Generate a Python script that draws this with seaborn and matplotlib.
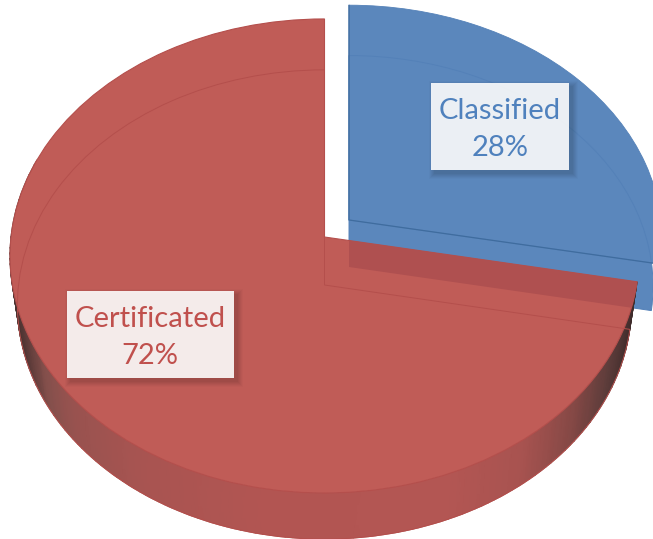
import numpy as np
import matplotlib
matplotlib.use("Agg")
import matplotlib.pyplot as plt
from matplotlib.colors import LinearSegmentedColormap
from matplotlib.patches import Rectangle
from matplotlib.transforms import Transform
import seaborn as sns

categories = ["Classified", "Certificated"]
shares = [28, 72]

BLUE = "#5b87bc"
BLUE_EDGE = "#5481b8"
BLUE_LABEL = "#4f81bd"
RED = "#c05c57"
RED_OVER_BLUE = "#af5050"
RED_EDGE = "#b44f4c"
RED_LABEL = "#c0504d"

sns.set_theme(style="white")
plt.rcParams["font.family"] = ["Lato", "DejaVu Sans"]


class Tilt(Transform):
    """Projects the flat pie disc on to a plane seen in perspective."""
    input_dims = 2
    output_dims = 2

    def __init__(self, cx, cy, a, b, k):
        super().__init__()
        self.p = (cx, cy, a, b, k)

    def transform_non_affine(self, xy):
        cx, cy, a, b, k = self.p
        xy = np.asarray(xy, dtype=float)
        w = 1 + k * xy[:, 1]
        return np.column_stack([cx + a * xy[:, 0] / w, cy - b * xy[:, 1] / w])


red_top = Tilt(324.5, 237, 313.5, 235.5, 0.08)
red_low = Tilt(324.5, 285, 306, 233, 0.083)
blue_top = Tilt(349, 220, 312, 232, 0.08)
blue_low = Tilt(349, 267, 303, 229, 0.083)

fig = plt.figure(figsize=(6.53, 5.39), dpi=100, facecolor="white")
ax = fig.add_axes([0, 0, 1, 1])


def slices(tilt, z, **kw):
    """One pie of the shares, in the given projection; returns its wedges."""
    wedges, _ = ax.pie(shares, startangle=90, counterclock=False, radius=1,
                       center=(0, 0), wedgeprops=kw)
    for w in wedges:
        w.set_transform(tilt + ax.transData)
        w.set_zorder(z)
    return wedges


def keep(wedges, i):
    wedges[1 - i].remove()
    return wedges[i]


keep(slices(blue_low, 1, facecolor=BLUE, edgecolor="none"), 0)
keep(slices(blue_top, 2, facecolor=BLUE, edgecolor=BLUE_EDGE, linewidth=0.6), 0)
keep(slices(blue_low, 2.5, facecolor="none", edgecolor=BLUE_EDGE, linewidth=0.7), 0)

start = 90 - 360 * shares[0] / sum(shares)

# darker radial edges of the blue slice's upper face
ends = np.array([[0, 1], [0, 0], [np.cos(np.radians(start)), np.sin(np.radians(start))]])
pts = blue_top.transform_non_affine(ends)
ax.plot(pts[:, 0], pts[:, 1], color="#3f6c9e", linewidth=0.9, zorder=2.6)

# side wall of the red slice, shaded by angle
theta = np.radians(np.linspace(start, start - 360 * shares[1] / sum(shares), 200))
theta = theta[theta > np.radians(-200)]
u, v = np.cos(theta), np.sin(theta)
pts_top = red_top.transform_non_affine(np.column_stack([u, v]))
pts_low = red_low.transform_non_affine(np.column_stack([u, v]))
X = np.vstack([pts_top[:, 0], pts_low[:, 0]])
Y = np.vstack([pts_top[:, 1], pts_low[:, 1]])
C = np.vstack([X[0], X[0]])
wall_stops = [0, 0.02, 0.05, 0.09, 0.2, 0.4, 0.7, 0.82, 0.895, 0.96, 1]
wall_cols = ["#4a3230", "#5e3c3a", "#85504c", "#98524f", "#a85451", "#b25552",
             "#b35653", "#a85350", "#8a4a47", "#5e3d3b", "#3f2c2b"]
wall = LinearSegmentedColormap.from_list(
    "wall", list(zip(wall_stops, sns.color_palette(wall_cols))))
ax.pcolormesh(X, Y, C, shading="gouraud", cmap=wall, vmin=12, vmax=636, zorder=3)

top = keep(slices(red_top, 4, facecolor=RED, edgecolor=RED_EDGE, linewidth=0.8), 1)
over = keep(slices(blue_low, 5, facecolor=RED_OVER_BLUE, edgecolor="none"), 0)
over.set_clip_on(True)
over.set_clip_path(top)
keep(slices(red_low, 6, facecolor="none", edgecolor=RED_EDGE, linewidth=0.7), 1)

ax.set_aspect("auto")
ax.set_xlim(0, 653)
ax.set_ylim(539, 0)
ax.axis("off")

boxes = [(431, 83, 138, 87, BLUE_LABEL, 500), (67, 291, 167, 87, RED_LABEL, 150)]
for (x, y, w, h, col, xc), name, val in zip(boxes, categories, shares):
    for s, al in [(11, .02), (9, .025), (7, .03), (5, .03), (3, .03), (1, .03)]:
        ax.add_patch(Rectangle((x + 3 - s / 2, y + 3 - s / 2), w + s, h + s,
                               facecolor="black", edgecolor="none", alpha=al, zorder=7))
    ax.add_patch(Rectangle((x, y), w, h, facecolor="white", alpha=0.895,
                           edgecolor="none", zorder=8))
    ax.text(xc, y + h / 2 + 3, f"{name}\n{val}%", color=col, fontsize=21, ha="center",
            va="center", linespacing=1.55, zorder=9)

fig.savefig("out.png", dpi=100, facecolor="white")
